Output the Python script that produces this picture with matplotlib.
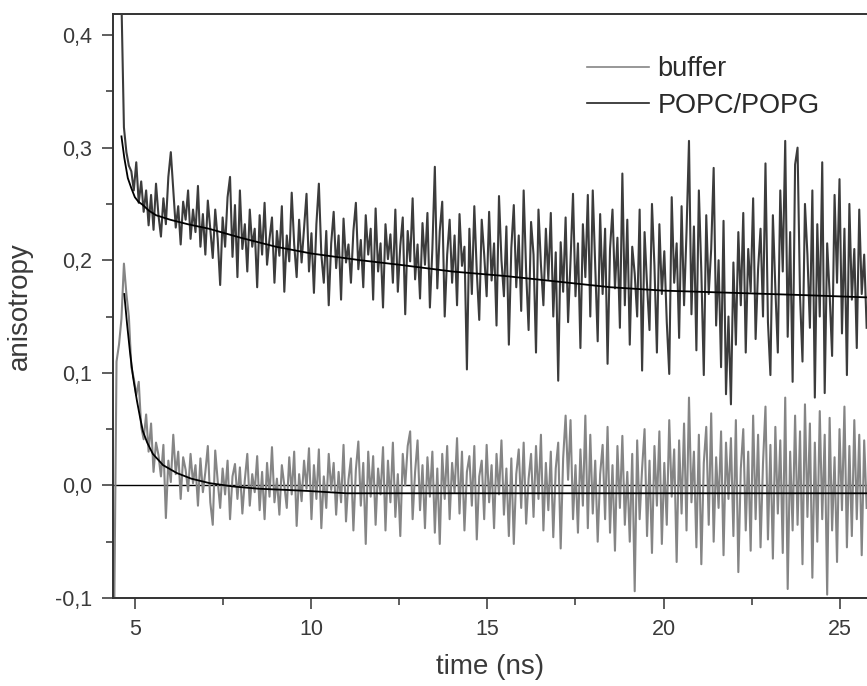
import numpy as np
import matplotlib
matplotlib.use("Agg")
import matplotlib.pyplot as plt
from matplotlib.ticker import MultipleLocator, FuncFormatter
from matplotlib.lines import Line2D

plt.rcParams['font.family'] = ['Liberation Sans', 'DejaVu Sans']

# ---------------- data ----------------
popc_t0, popc_dt = 4.62, 0.07
popc_values = [
    0.430, 0.318, 0.296, 0.284, 0.279, 0.262, 0.287, 0.251, 0.270, 0.243,
    0.262, 0.231, 0.258, 0.227, 0.268, 0.240, 0.221, 0.255, 0.232, 0.274,
    0.296, 0.262, 0.229, 0.248, 0.214, 0.252, 0.236, 0.262, 0.219, 0.245,
    0.225, 0.266, 0.212, 0.241, 0.205, 0.253, 0.228, 0.202, 0.245, 0.219,
    0.178, 0.238, 0.212, 0.256, 0.274, 0.203, 0.249, 0.185, 0.262, 0.210,
    0.232, 0.190, 0.245, 0.212, 0.228, 0.176, 0.240, 0.205, 0.251, 0.196,
    0.219, 0.238, 0.180, 0.226, 0.204, 0.248, 0.172, 0.222, 0.199, 0.260,
    0.214, 0.185, 0.236, 0.198, 0.228, 0.259, 0.190, 0.224, 0.171, 0.232,
    0.268, 0.205, 0.180, 0.226, 0.160, 0.215, 0.243, 0.193, 0.222, 0.165,
    0.237, 0.198, 0.214, 0.180, 0.226, 0.251, 0.192, 0.218, 0.176, 0.240,
    0.205, 0.228, 0.165, 0.246, 0.190, 0.215, 0.158, 0.232, 0.201, 0.223,
    0.180, 0.245, 0.172, 0.213, 0.238, 0.152, 0.226, 0.199, 0.255, 0.183,
    0.214, 0.166, 0.233, 0.196, 0.242, 0.158, 0.210, 0.283, 0.175, 0.226,
    0.252, 0.150, 0.205, 0.236, 0.180, 0.222, 0.160, 0.241, 0.195, 0.212,
    0.103, 0.228, 0.170, 0.248, 0.190, 0.147, 0.236, 0.205, 0.168, 0.243,
    0.182, 0.215, 0.142, 0.257, 0.200, 0.168, 0.230, 0.125, 0.211, 0.249,
    0.176, 0.222, 0.155, 0.262, 0.190, 0.138, 0.234, 0.205, 0.118, 0.245,
    0.196, 0.160, 0.228, 0.183, 0.242, 0.150, 0.207, 0.093, 0.216, 0.172,
    0.238, 0.145, 0.200, 0.259, 0.168, 0.215, 0.122, 0.232, 0.185, 0.258,
    0.150, 0.262, 0.195, 0.128, 0.241, 0.170, 0.228, 0.108, 0.210, 0.245,
    0.175, 0.220, 0.140, 0.277, 0.160, 0.236, 0.125, 0.212, 0.188, 0.150,
    0.245, 0.102, 0.225, 0.178, 0.138, 0.250, 0.195, 0.118, 0.232, 0.170,
    0.208, 0.145, 0.099, 0.256, 0.180, 0.215, 0.131, 0.248, 0.160, 0.225,
    0.306, 0.152, 0.230, 0.120, 0.262, 0.190, 0.098, 0.240, 0.170, 0.210,
    0.282, 0.142, 0.200, 0.105, 0.235, 0.081, 0.150, 0.072, 0.198, 0.125,
    0.225, 0.160, 0.242, 0.118, 0.210, 0.172, 0.255, 0.130, 0.192, 0.228,
    0.150, 0.286, 0.145, 0.098, 0.240, 0.175, 0.118, 0.262, 0.190, 0.306,
    0.132, 0.225, 0.092, 0.285, 0.300, 0.168, 0.110, 0.250, 0.205, 0.140,
    0.262, 0.078, 0.232, 0.150, 0.287, 0.082, 0.215, 0.170, 0.115, 0.258,
    0.180, 0.272, 0.135, 0.228, 0.098, 0.250, 0.165, 0.210, 0.122, 0.245,
    0.170, 0.205, 0.140,
]

buffer_t0, buffer_dt = 4.41, 0.07
buffer_values = [
    -0.130, 0.110, 0.125, 0.148, 0.197, 0.170, 0.150, 0.105, 0.095, 0.080,
    0.092, 0.052, 0.041, 0.063, 0.030, 0.055, 0.012, 0.038, 0.027, 0.008,
    0.036, -0.029, 0.022, 0.003, 0.045, 0.010, 0.030, -0.012, 0.025, 0.014,
    -0.005, 0.028, 0.002, 0.018, -0.018, 0.024, -0.006, 0.012, 0.035, -0.015,
    -0.035, 0.031, 0.004, -0.020, 0.015, -0.008, 0.022, -0.030, 0.008, 0.019,
    -0.012, 0.016, -0.025, 0.005, 0.028, -0.018, 0.010, -0.006, 0.026, -0.022,
    0.012, -0.030, 0.020, -0.010, 0.034, -0.015, 0.006, -0.026, 0.018, 0.000,
    -0.020, 0.025, -0.008, 0.030, -0.036, 0.010, -0.014, 0.022, -0.003, 0.033,
    -0.030, 0.018, -0.012, 0.032, -0.038, 0.008, -0.020, 0.028, -0.004, 0.020,
    -0.026, 0.012, -0.015, 0.036, -0.032, 0.005, 0.024, -0.040, 0.014, 0.039,
    -0.018, 0.020, -0.052, 0.030, -0.010, 0.026, -0.035, 0.015, -0.008, 0.034,
    -0.040, 0.022, -0.015, 0.038, -0.028, 0.010, -0.045, 0.028, 0.000, 0.035,
    0.048, -0.030, 0.012, 0.040, -0.022, 0.018, -0.038, 0.025, -0.010, 0.030,
    -0.042, 0.015, -0.052, 0.028, -0.012, 0.035, -0.030, 0.020, -0.006, 0.042,
    -0.025, 0.030, -0.040, 0.012, 0.026, -0.018, 0.035, -0.048, 0.008, 0.022,
    -0.030, 0.036, -0.015, 0.018, -0.038, 0.028, -0.008, 0.040, -0.026, 0.015,
    -0.045, 0.024, -0.052, 0.010, 0.032, -0.020, 0.038, -0.034, 0.006, 0.028,
    -0.028, 0.035, -0.012, 0.045, -0.040, 0.020, -0.022, 0.030, -0.046, 0.015,
    0.038, -0.056, 0.024, 0.062, 0.005, 0.058, -0.030, 0.018, -0.042, 0.032,
    -0.018, 0.062, -0.038, 0.045, -0.025, 0.022, -0.050, 0.010, 0.036, -0.030,
    0.052, -0.042, 0.018, -0.058, 0.035, -0.020, 0.044, -0.035, 0.012, -0.050,
    0.028, -0.094, 0.040, -0.030, 0.015, 0.050, -0.045, 0.022, -0.060, 0.035,
    -0.018, 0.048, -0.052, 0.020, -0.035, 0.058, -0.010, 0.032, -0.068, 0.040,
    -0.025, 0.055, -0.040, 0.078, -0.015, 0.030, -0.055, 0.045, -0.070, 0.020,
    0.052, -0.035, 0.064, -0.050, 0.025, -0.020, 0.048, -0.062, 0.038, -0.012,
    0.042, -0.045, 0.058, -0.077, 0.015, 0.050, -0.040, 0.030, -0.058, 0.062,
    -0.030, 0.045, -0.055, 0.020, 0.070, -0.048, 0.036, -0.065, 0.052, -0.025,
    0.040, -0.060, 0.078, -0.092, 0.030, -0.040, 0.062, -0.035, 0.048, -0.070,
    0.072, -0.028, 0.055, -0.082, 0.038, -0.050, 0.066, -0.030, 0.045, -0.097,
    0.060, -0.040, 0.025, -0.068, 0.050, -0.022, 0.070, -0.055, 0.035, -0.045,
    0.058, -0.030, 0.045, -0.062, 0.040, -0.020,
]

popc_fit_t = [4.62, 4.70, 4.80, 4.90, 5.00, 5.10, 5.23, 5.40, 5.60, 6.00, 6.50,
              7.10, 8.00, 9.00, 10.0, 11.4, 12.5, 14.0, 15.5, 17.0, 18.5,
              20.0, 22.0, 24.0, 25.77]
popc_fit_y = [0.310, 0.291, 0.273, 0.264, 0.256, 0.252, 0.249, 0.244, 0.240,
              0.236, 0.232, 0.228, 0.220, 0.212, 0.206, 0.200, 0.196, 0.190,
              0.186, 0.181, 0.176, 0.173, 0.171, 0.169, 0.167]

buffer_fit_t = [4.70, 4.78, 4.86, 4.95, 5.06, 5.15, 5.23, 5.35, 5.51, 5.80,
                6.19, 6.60, 7.12, 7.80, 8.54, 9.30, 9.96, 11.0, 25.77]
buffer_fit_y = [0.170, 0.143, 0.119, 0.096, 0.075, 0.060, 0.048, 0.038, 0.028,
                0.018, 0.011, 0.006, 0.002, -0.001, -0.003, -0.004, -0.005,
                -0.007, -0.007]

series_labels = ["buffer", "POPC/POPG"]
x_label = "time (ns)"
y_label = "anisotropy"

# ---------------- figure ----------------
W, H = 867, 686
fig = plt.figure(figsize=(W / 100, H / 100), dpi=100)
ax = fig.add_axes([113 / W, 1 - 598 / H, (W - 113) / W, (598 - 14) / H])

popc_t = popc_t0 + popc_dt * np.arange(len(popc_values))
buffer_t = buffer_t0 + buffer_dt * np.arange(len(buffer_values))

ax.axhline(0.0, color='black', lw=1.0, zorder=1)
ax.plot(buffer_t, buffer_values, color='#858585', lw=1.5, zorder=2)
ax.plot(popc_t, popc_values, color='#3c3c3c', lw=1.5, zorder=3)
ax.plot(buffer_fit_t, buffer_fit_y, color='black', lw=1.3, zorder=4)
ax.plot(popc_fit_t, popc_fit_y, color='black', lw=1.3, zorder=4)

ax.set_xlim(4.38, 25.77)
ax.set_ylim(-0.1, 0.4187)

ax.xaxis.set_major_locator(MultipleLocator(5))
ax.xaxis.set_minor_locator(MultipleLocator(2.5))
ax.yaxis.set_major_locator(MultipleLocator(0.1))
ax.yaxis.set_minor_locator(MultipleLocator(0.05))
ax.yaxis.set_major_formatter(FuncFormatter(lambda v, p: f"{v:.1f}".replace('.', ',').replace('-0,0', '0,0')))

txt_col = '#3a3a3a'
for s in ['left', 'top', 'bottom']:
    ax.spines[s].set_color('#333333')
    ax.spines[s].set_linewidth(1.4)
ax.spines['right'].set_visible(False)
ax.tick_params(which='major', direction='out', length=8, width=1.1,
               labelsize=15.5, colors='#333333', labelcolor=txt_col, pad=7)
ax.tick_params(which='minor', direction='out', length=5, width=1.1, colors='#333333')
ax.tick_params(right=False, top=False, which='both')

ax.set_xlabel(x_label, fontsize=20, color=txt_col, labelpad=10)
ax.set_ylabel(y_label, fontsize=20, color=txt_col, labelpad=16)

handles = [Line2D([], [], color='#858585', lw=1.2), Line2D([], [], color='#222222', lw=1.2)]
leg = ax.legend(handles, series_labels, loc='upper left',
                bbox_to_anchor=(587 / W, 1 - 56 / H), bbox_transform=fig.transFigure,
                frameon=False, fontsize=19.5, handlelength=2.3, handletextpad=0.3,
                labelspacing=0.4, borderaxespad=0, borderpad=0)
for t in leg.get_texts():
    t.set_color('#2a2a2a')

fig.savefig("out.png", dpi=100, facecolor='white')
